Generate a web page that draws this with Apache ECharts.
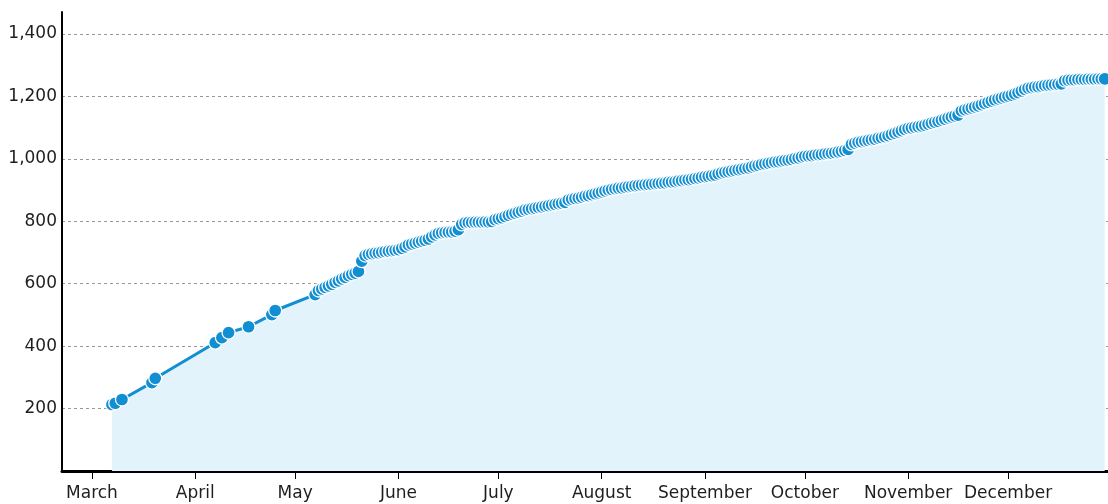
<!DOCTYPE html>
<html>
<head>
<meta charset="utf-8">
<script src="https://cdn.jsdelivr.net/npm/echarts@6/dist/echarts.min.js"></script>
<style>
    html, body { margin: 0; padding: 0; background: #fff; }
    #chart { width: 1108px; height: 504px; }
</style>
</head>
<body>
<div id="chart"></div>
<script>
// sparse points early in the season
const earlyDates = ['2013-03-07', '2013-03-08', '2013-03-10', '2013-03-19', '2013-03-20',
    '2013-04-07', '2013-04-09', '2013-04-11', '2013-04-17', '2013-04-24', '2013-04-25', '2013-05-07'];
const earlyValues = [213, 217, 229, 283, 297, 411, 427, 443, 462, 501, 514, 565];

// one point per day from 8 May onwards
const dailyStart = '2013-05-08';
const dailyValues = [
    // May 8 - 31
    578, 583, 588, 593, 598, 604, 609, 615, 620, 626, 630, 634, 639, 672, 690, 694, 696, 698, 699, 701, 703, 704, 706, 707,
    // June
    709, 713, 718, 724, 727, 730, 733, 736, 739, 743, 750, 756, 761, 763, 764, 765, 766, 768, 773, 790,
    795, 796, 796, 797, 797, 797, 798, 798, 799, 805,
    // July
    808, 811, 815, 819, 823, 826, 829, 832, 836, 838, 840, 842, 844, 846, 848, 850, 852, 854, 856, 858,
    860, 868, 871, 873, 875, 877, 880, 882, 885, 888, 891,
    // August
    894, 897, 900, 902, 904, 906, 907, 909, 911, 912, 914, 915, 916, 917, 918, 919, 920, 921, 922, 923,
    925, 926, 927, 929, 930, 932, 933, 935, 937, 939, 941,
    // September
    943, 944, 946, 948, 952, 955, 957, 959, 961, 963, 965, 967, 969, 971, 974, 977, 979, 982, 984, 986,
    988, 990, 991, 993, 995, 996, 998, 1001, 1003, 1006,
    // October
    1008, 1009, 1010, 1012, 1013, 1014, 1016, 1017, 1018, 1020, 1022, 1024, 1027, 1030, 1046, 1050, 1053, 1055, 1057, 1059,
    1061, 1063, 1066, 1068, 1071, 1074, 1078, 1082, 1086, 1090, 1094,
    // November
    1097, 1099, 1101, 1103, 1105, 1108, 1111, 1114, 1117, 1120, 1124, 1127, 1131, 1134, 1137, 1140, 1153, 1157, 1160, 1163,
    1166, 1169, 1173, 1177, 1181, 1185, 1189, 1192, 1195, 1198,
    // December 1 - 30
    1201, 1204, 1208, 1212, 1217, 1222, 1226, 1228, 1230, 1231, 1233, 1235, 1236, 1237, 1238, 1239, 1240, 1250, 1252, 1253,
    1253, 1254, 1254, 1254, 1255, 1255, 1255, 1256, 1256, 1256
];

const monthTicks = ['2013-03-01', '2013-04-01', '2013-05-01', '2013-06-01', '2013-07-01',
    '2013-08-01', '2013-09-01', '2013-10-01', '2013-11-01', '2013-12-01'];
const monthNames = ['January', 'February', 'March', 'April', 'May', 'June', 'July',
    'August', 'September', 'October', 'November', 'December'];
const yTicks = [200, 400, 600, 800, 1000, 1200, 1400];

const DAY = 24 * 3600 * 1000;
const ts = s => new Date(s + 'T00:00:00Z').getTime();

let data = earlyDates.map((d, i) => [ts(d), earlyValues[i]]);
const t0 = ts(dailyStart);
dailyValues.forEach((v, i) => data.push([t0 + i * DAY, v]));

const labelFont = {
    color: '#1e1e1e',
    fontFamily: 'DejaVu Sans, sans-serif',
    fontSize: 17
};

const chart = echarts.init(document.getElementById('chart'));
chart.setOption({
    animation: false,
    grid: { left: 62, right: 0, top: 12, bottom: 33 },
    xAxis: {
        type: 'value',
        min: ts('2013-02-20'),
        max: ts('2013-12-31'),
        axisLine: { lineStyle: { color: '#000', width: 3 } },
        axisTick: {
            show: true,
            length: 8,
            customValues: monthTicks.map(ts),
            lineStyle: { color: '#000', width: 1 }
        },
        axisLabel: Object.assign({
            customValues: monthTicks.map(ts),
            formatter: v => monthNames[new Date(v).getUTCMonth()],
            margin: 14
        }, labelFont),
        splitLine: { show: false }
    },
    yAxis: {
        type: 'value',
        min: 0,
        max: 1470,
        axisLine: { show: true, lineStyle: { color: '#000', width: 2 } },
        axisTick: { show: false, customValues: yTicks },
        axisLabel: Object.assign({
            customValues: yTicks,
            formatter: v => v.toLocaleString('en-US'),
            margin: 5
        }, labelFont),
        splitLine: {
            show: true,
            lineStyle: { color: '#999', type: [3, 3], width: 1 }
        }
    },
    series: [{
        type: 'line',
        data: data,
        showAllSymbol: true,
        symbol: 'circle',
        symbolSize: 13,
        lineStyle: { color: '#118fd2', width: 3 },
        itemStyle: { color: '#118fd2', borderColor: '#fff', borderWidth: 1.3 },
        areaStyle: { color: '#e2f3fc', opacity: 1 }
    }]
});
</script>
</body>
</html>
